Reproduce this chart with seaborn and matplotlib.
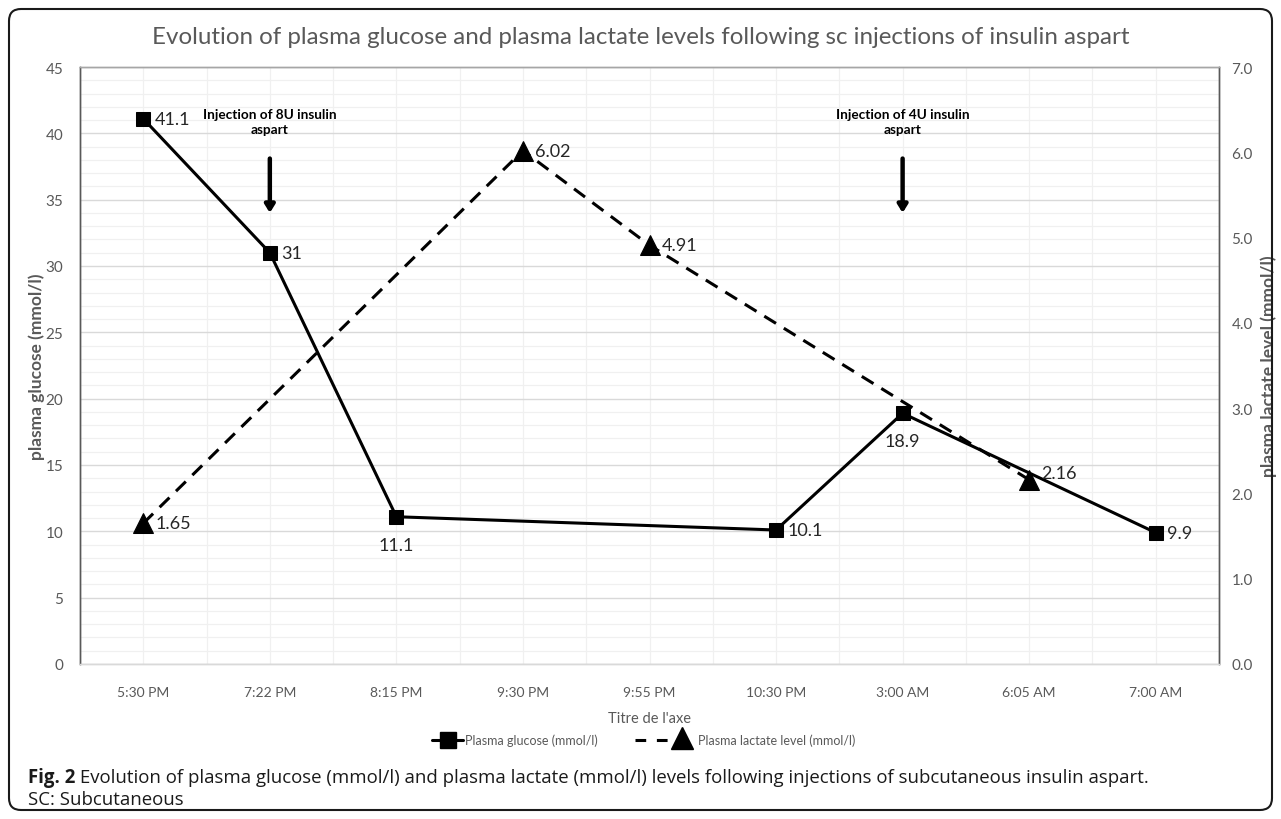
import matplotlib
matplotlib.use('Agg')

import matplotlib.pyplot as plt
import matplotlib.patches as mpatches
import matplotlib.transforms as mtransforms
from matplotlib.lines import Line2D
from matplotlib.ticker import MultipleLocator
import seaborn as sns
import numpy as np
import pandas as pd

# Data
times = ["5:30 PM", "7:22 PM", "8:15 PM", "9:30 PM", "9:55 PM",
         "10:30 PM", "3:00 AM", "6:05 AM", "7:00 AM"]
glucose = [41.1, 31, 11.1, np.nan, np.nan, 10.1, 18.9, np.nan, 9.9]
lactate = [1.65, np.nan, np.nan, 6.02, 4.91, np.nan, np.nan, 2.16, np.nan]
glucose_labels = ["41.1", "31", "11.1", None, None, "10.1", "18.9", None, "9.9"]
lactate_labels = ["1.65", None, None, "6.02", "4.91", None, None, "2.16", None]

sns.set_theme(style="white")
plt.rcParams['font.family'] = ['Lato', 'DejaVu Sans']

GRAY = "#595959"
PIX = mtransforms.IdentityTransform()
H = 820

df = pd.DataFrame({"pos": np.arange(len(times)), "glucose": glucose, "lactate": lactate})
g_df = df.dropna(subset=["glucose"])
l_df = df.dropna(subset=["lactate"])

fig = plt.figure(figsize=(12.81, 8.2), dpi=100)
ax = fig.add_axes([80 / 1281, 155 / 820, 1139 / 1281, 597 / 820])
ax2 = ax.twinx()

# grid
ax.set_xlim(-0.5, len(times) - 0.5)
ax.set_ylim(0, 45)
ax2.set_ylim(0, 7)
ax.yaxis.set_major_locator(MultipleLocator(5))
ax.yaxis.set_minor_locator(MultipleLocator(1))
ax.set_xticks(range(len(times)))
ax.set_xticks(np.arange(-0.5, len(times), 1.0), minor=True)
ax.grid(which="major", axis="y", color="#d9d9d9", lw=1.0)
ax.grid(which="minor", axis="y", color="#f0f0f0", lw=0.9)
ax.grid(which="both", axis="x", color="#f0f0f0", lw=0.9)
ax.set_axisbelow(True)
ax2.yaxis.set_major_locator(MultipleLocator(1))

sns.lineplot(data=g_df, x="pos", y="glucose", ax=ax, color="black", lw=2.2,
             marker="s", markersize=10.5, markeredgecolor="black", zorder=3)
sns.lineplot(data=l_df, x="pos", y="lactate", ax=ax2, color="black", lw=2.2,
             marker="^", markersize=15, markeredgecolor="black",
             linestyle=(0, (4.5, 3)), zorder=3)

# data labels
for i, (v, lab) in enumerate(zip(glucose, glucose_labels)):
    if lab is None:
        continue
    if lab in ("11.1", "18.9"):
        ax.annotate(lab, (i, v), xytext=(0, -20), textcoords="offset points",
                    ha="center", va="center", fontsize=13, color="#262626")
    else:
        ax.annotate(lab, (i, v), xytext=(8, 0), textcoords="offset points",
                    ha="left", va="center", fontsize=13, color="#262626")
for i, (v, lab) in enumerate(zip(lactate, lactate_labels)):
    if lab is None:
        continue
    dy = 5 if lab == "2.16" else 0
    ax2.annotate(lab, (i, v), xytext=(9, dy), textcoords="offset points",
                 ha="left", va="center", fontsize=13, color="#262626")

# injection annotations
for i, txt in [(1, "Injection of 8U insulin\naspart"), (6, "Injection of 4U insulin\naspart")]:
    ax.text(i, 40.9, txt, ha="center", va="center", fontsize=9.8,
            fontweight="bold", color="black", linespacing=1.35)
    ax.annotate("", xy=(i, 34.0), xytext=(i, 38.1),
                arrowprops=dict(arrowstyle="-|>,head_length=0.45,head_width=0.28",
                                color="black", lw=3.2, mutation_scale=10,
                                shrinkA=0, shrinkB=0))

# axes styling
ax.set_xticklabels(times, color=GRAY, fontsize=10)
ax.tick_params(axis="x", which="both", length=0, pad=16)
ax.tick_params(axis="y", which="both", length=0, labelsize=11, labelcolor=GRAY, pad=12)
ax2.tick_params(axis="y", which="both", length=0, labelsize=11, labelcolor=GRAY, pad=9)
ax2.set_yticklabels([f"{t:.1f}" for t in ax2.get_yticks()])
ax.set_xlabel("Titre de l'axe", color=GRAY, fontsize=10.5, labelpad=9)
ax.set_ylabel("plasma glucose (mmol/l)", color=GRAY, fontsize=12.5, fontweight="bold")
ax.yaxis.label.set_va("center")
ax.yaxis.set_label_coords(-0.038, 0.5)
ax2.set_ylabel("plasma lactate level (mmol/l)", color=GRAY, fontsize=12.5,
               fontweight="bold", rotation=90)
ax2.yaxis.label.set_va("center")
ax2.yaxis.set_label_coords(1.044, 0.5)
ax2.set_xlabel("")
for a in (ax, ax2):
    a.spines["left"].set_color(GRAY)
    a.spines["right"].set_color(GRAY)
    a.spines["top"].set_color("#a6a6a6")
    a.spines["bottom"].set_color("#d9d9d9")
    for s in a.spines.values():
        s.set_linewidth(1.0)

fig.text(0.5, 1 - 37 / 820,
         "Evolution of plasma glucose and plasma lactate levels following sc injections of insulin aspart",
         ha="center", va="center", fontsize=17.4, color=GRAY)

# legend (drawn by hand so the lactate marker sits at the end of its dashes)
ly = H - 741
fig.add_artist(Line2D([432, 463], [ly, ly], transform=PIX, color="black", lw=2.2))
fig.add_artist(Line2D([447.5], [ly], transform=PIX, color="black", marker="s", markersize=11))
fig.text(465, ly, "Plasma glucose (mmol/l)", transform=PIX, va="center", ha="left",
         fontsize=9, color=GRAY)
fig.add_artist(Line2D([635, 690], [ly, ly], transform=PIX, color="black", lw=2.2,
                      linestyle=(0, (3.5, 3.5))))
fig.add_artist(Line2D([682], [ly + 2], transform=PIX, color="black", marker="^", markersize=16))
fig.text(698, ly, "Plasma lactate level (mmol/l)", transform=PIX, va="center", ha="left",
         fontsize=9, color=GRAY)

# caption
cap_font = ["Open Sans", "DejaVu Sans"]
cap1 = fig.text(28 / 1281, 1 - 778 / 820, "Fig. 2", fontsize=13.4, fontweight="bold",
                va="center", ha="left", family=cap_font, color="#1a1a1a")
cap2 = plt.Annotation(
    " Evolution of plasma glucose (mmol/l) and plasma lactate (mmol/l) levels following injections of subcutaneous insulin aspart.",
    xy=(1, 0.5), xycoords=cap1, va="center", ha="left", fontsize=13.4,
    family=cap_font, color="#1a1a1a")
cap2.set_figure(fig)
fig.texts.append(cap2)
fig.text(28 / 1281, 1 - 800 / 820, "SC: Subcutaneous", fontsize=13.4,
         va="center", ha="left", family=cap_font, color="#1a1a1a")

# rounded frame
frame = mpatches.FancyBboxPatch((9, 9), 1263, 801, boxstyle="round,pad=0,rounding_size=12",
                                transform=PIX, fill=False, edgecolor="#1a1a1a", lw=1.5)
fig.add_artist(frame)

fig.savefig("out.png", dpi=100)
plt.close(fig)
